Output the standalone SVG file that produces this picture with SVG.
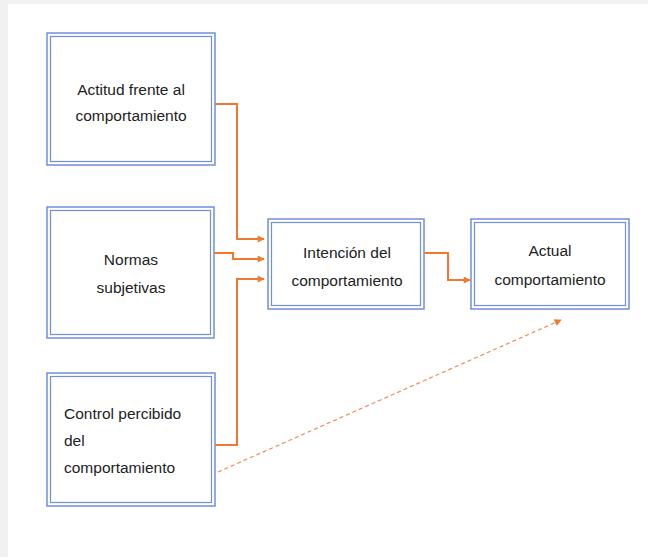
<svg xmlns="http://www.w3.org/2000/svg" width="648" height="557" viewBox="0 0 648 557">
<defs>
<style>
.box{fill:#fff;stroke:#6f8ede;stroke-width:1.5}
.inner{fill:none;stroke:#6f8ede;stroke-width:1.2}
.t{font-family:"Liberation Sans",Arial,sans-serif;font-size:15.5px;fill:#222}
.c{text-anchor:middle}
.con{fill:none;stroke:#f0782f;stroke-width:2}
.dash{fill:none;stroke:#f08a5a;stroke-width:1.2;stroke-dasharray:4 3}
</style>
<marker id="ah" viewBox="0 0 10 10" refX="9" refY="5" markerWidth="9" markerHeight="7" markerUnits="userSpaceOnUse" orient="auto">
<path d="M0,0 L10,5 L0,10 Z" fill="#f0782f"/>
</marker>
</defs>
<rect x="0" y="0" width="648" height="557" fill="#f1f1f1"/>
<rect x="8" y="4" width="640" height="553" fill="#fff"/>

<g id="n1">
<rect class="box" x="47" y="33" width="168" height="132"/>
<rect class="inner" x="50.5" y="36.5" width="161" height="125"/>
<text class="t c" x="131" y="95">Actitud frente al</text>
<text class="t c" x="131" y="121">comportamiento</text>
</g>
<g id="n2">
<rect class="box" x="47" y="207" width="167" height="131"/>
<rect class="inner" x="50.5" y="210.5" width="160" height="124"/>
<text class="t c" x="131" y="265">Normas</text>
<text class="t c" x="131" y="293">subjetivas</text>
</g>
<g id="n3">
<rect class="box" x="47" y="373" width="168" height="133"/>
<rect class="inner" x="50.5" y="376.5" width="161" height="126"/>
<text class="t" x="64" y="419">Control percibido</text>
<text class="t" x="64" y="446">del</text>
<text class="t" x="64" y="473">comportamiento</text>
</g>
<g id="n4">
<rect class="box" x="268" y="219" width="156" height="90"/>
<rect class="inner" x="271.5" y="222.5" width="149" height="83"/>
<text class="t c" x="347" y="258">Intención del</text>
<text class="t c" x="347" y="286">comportamiento</text>
</g>
<g id="n5">
<rect class="box" x="471" y="219" width="158" height="90"/>
<rect class="inner" x="474.5" y="222.5" width="151" height="83"/>
<text class="t c" x="550" y="256">Actual</text>
<text class="t c" x="550" y="285">comportamiento</text>
</g>

<g id="connectors">
<path class="con" d="M215,104 H237 V239 H264" marker-end="url(#ah)"/>
<path class="con" d="M214,253 H233 V259 H264" marker-end="url(#ah)"/>
<path class="con" d="M215,445 H237 V279 H264" marker-end="url(#ah)"/>
<path class="con" d="M424,253 H448 V280 H470" marker-end="url(#ah)"/>
<path class="dash" d="M218,472 L561,320" marker-end="url(#ah)"/>
</g>
</svg>
